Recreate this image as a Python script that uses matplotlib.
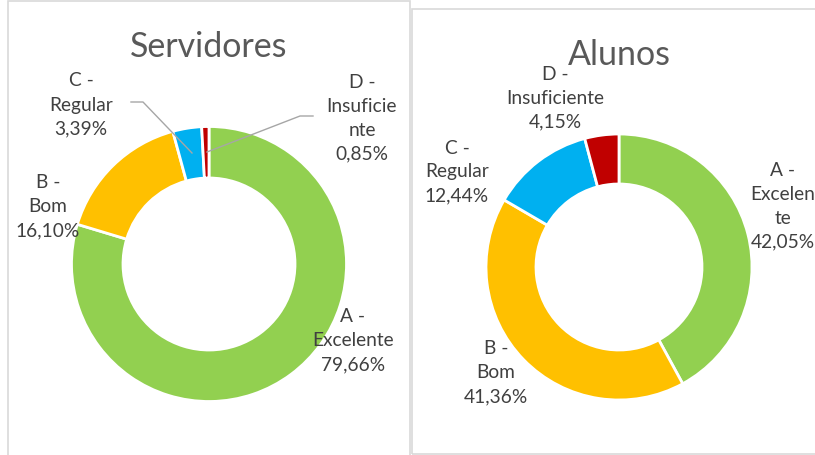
import matplotlib.pyplot as plt
from matplotlib.patches import Rectangle

plt.rcParams['font.family'] = ['Lato', 'DejaVu Sans']

# data
categorias = ["A - Excelente", "B - Bom", "C - Regular", "D - Insuficiente"]
cores = ["#92D050", "#FFC000", "#00B0F0", "#C00000"]

servidores = [79.66, 16.10, 3.39, 0.85]
alunos = [42.05, 41.36, 12.44, 4.15]

# how the labels wrap in each chart
rot_servidores = ["A -\nExcelente", "B -\nBom", "C -\nRegular", "D -\nInsuficie\nnte"]
rot_alunos = ["A -\nExcelen\nte", "B -\nBom", "C -\nRegular", "D -\nInsuficiente"]

W, H = 815, 456


def py(y):
    # pixel row -> data y
    return H - y


def pct(v):
    return f"{v:.2f}".replace(".", ",") + "%"


fig = plt.figure(figsize=(W / 100, H / 100), dpi=100)
ax = fig.add_axes([0, 0, 1, 1])

# chart frames
ax.add_patch(Rectangle((8, py(470)), 402, 468, fill=False, ec="#D9D9D9", lw=1.2))
ax.add_patch(Rectangle((412, py(455)), 420, 445, fill=False, ec="#D9D9D9", lw=1.2))

# donuts
for vals, cx, cy, r, ri in [(servidores, 209, 265, 137.5, 86),
                            (alunos, 619, 268, 133, 83)]:
    ax.pie(vals, colors=cores, startangle=90, counterclock=False,
           center=(cx, py(cy)), radius=r,
           wedgeprops=dict(width=r - ri, edgecolor="white", linewidth=2))

# titles
ax.text(209, py(47), "Servidores", ha="center", va="center", fontsize=24.5, color="#595959")
ax.text(619, py(55), "Alunos", ha="center", va="center", fontsize=24.5, color="#595959")

# data labels
pos_serv = [(353, 341), (48, 207), (81, 105), (362, 118)]
pos_alun = [(783, 206), (496, 373), (457, 172), (555, 98)]
for rotulos, vals, pos in [(rot_servidores, servidores, pos_serv),
                           (rot_alunos, alunos, pos_alun)]:
    for nome, v, (x, y) in zip(rotulos, vals, pos):
        ax.text(x, py(y), nome + "\n" + pct(v), ha="center", va="center",
                fontsize=13.8, color="#404040", linespacing=1.5)

# leader lines for the small slices
ax.plot([131, 143, 192], [py(103), py(103), py(154)], color="#A6A6A6", lw=1)
ax.plot([313, 300, 207], [py(117), py(117), py(153)], color="#A6A6A6", lw=1)

ax.set_xlim(0, W)
ax.set_ylim(0, H)
ax.set_aspect("auto")
ax.axis("off")

fig.savefig("out.png", dpi=100)
